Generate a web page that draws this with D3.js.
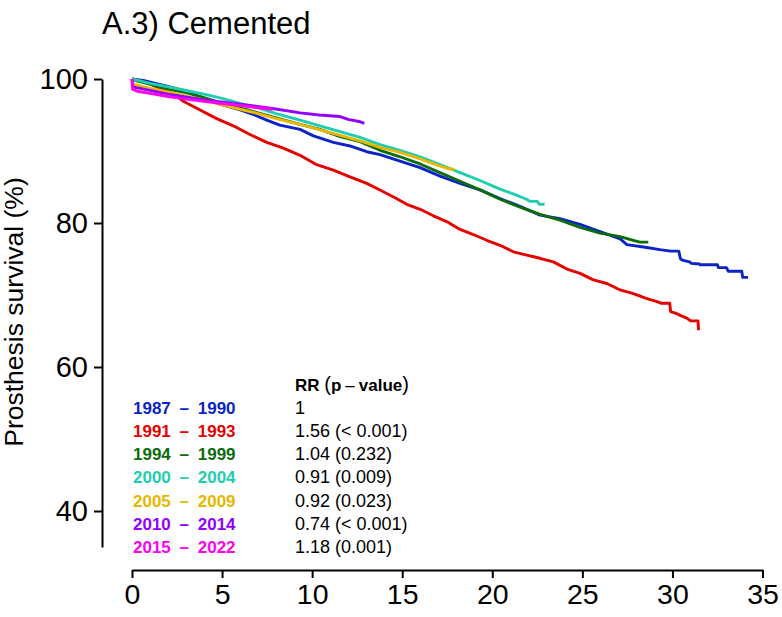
<!DOCTYPE html>
<html>
<head>
<meta charset="utf-8">
<script src="https://cdn.jsdelivr.net/npm/d3@7"></script>
<style>
  html, body { margin: 0; padding: 0; background: #fff; }
  svg { display: block; font-family: "Liberation Sans", Arial, Helvetica, sans-serif; }
</style>
</head>
<body>
<svg id="chart" width="782" height="617"></svg>
<script>
// ---- data (years since surgery, survival %) ----
const periods = ["1987 \u2013 1990", "1991 \u2013 1993", "1994 \u2013 1999", "2000 \u2013 2004", "2005 \u2013 2009", "2010 \u2013 2014", "2015 \u2013 2022"];
const rrLabels = ["1", "1.56 (< 0.001)", "1.04 (0.232)", "0.91 (0.009)", "0.92 (0.023)", "0.74 (< 0.001)", "1.18 (0.001)"];
const colors = ["#0B24C8", "#E60000", "#0C6B0C", "#1FCDB0", "#E8B800", "#9400FF", "#FF00F0"];
const xTicks = [0, 5, 10, 15, 20, 25, 30, 35];
const yTicks = [40, 60, 80, 100];

const s1987 = [[0,100],[0.3,99.9],[0.63,99.8],[1.3,99.4],[1.93,99.0],[2.85,98.4],[3.5,97.8],[4.3,97.0],[5.0,96.4],[6.0,95.7],[6.8,95.0],[7.48,94.3],[8.2,93.6],[9.33,93.0],[10.07,92.1],[11.18,91.2],[12.1,90.7],[13.03,89.9],[13.77,89.5],[14.88,88.6],[15.99,87.7],[17.1,86.5],[18.21,85.5],[19.32,84.6],[20.43,83.4],[21.54,82.3],[22.65,81.1],[23.76,80.6],[24.87,79.8],[25.98,78.8],[27.1,77.8],[27.47,77.0],[28.58,76.6],[29.3,76.3],[29.9,76.1],[30.35,76.1],[30.45,75.0],[30.6,74.8],[30.95,74.6],[31.05,74.4],[31.5,74.3],[31.55,74.2],[32.5,74.2],[32.55,73.8],[33.0,73.8],[33.1,73.3],[33.85,73.3],[33.9,72.45],[34.2,72.45]];
const s1991 = [[0,100],[0.5,99.7],[1,99.3],[1.5,98.8],[2,98.3],[2.5,97.6],[2.85,96.9],[3.78,95.7],[4.7,94.5],[5.62,93.5],[6.55,92.3],[7.48,91.2],[8.4,90.4],[9.33,89.4],[10.25,88.1],[11.18,87.35],[12.1,86.4],[13.03,85.5],[13.9,84.4],[14.6,83.5],[15.25,82.6],[16.0,81.9],[16.73,81.0],[17.47,80.2],[18.21,79.1],[18.95,78.4],[19.69,77.6],[20.43,76.9],[21.17,76.0],[21.91,75.55],[22.65,75.1],[23.39,74.6],[24.14,73.6],[24.87,73.0],[25.61,72.1],[26.36,71.6],[27.1,70.7],[27.83,70.2],[28.58,69.5],[29.1,69.1],[29.4,68.85],[29.85,68.85],[29.9,67.7],[30.2,67.45],[30.5,67.1],[30.8,66.8],[31.0,66.4],[31.42,66.4],[31.45,65.1]];
const s1994 = [[0,100],[0.3,99.7],[1,99.3],[2,98.6],[3,98.1],[4,97.4],[5,96.6],[6,96.0],[7,95.3],[8,94.6],[9.33,93.7],[10.44,93.0],[11.55,92.0],[12.66,91.3],[13.77,90.1],[14.88,89.2],[15.99,88.2],[17.1,87.0],[18.21,85.8],[19.32,84.6],[20.43,83.3],[21.54,82.2],[22.65,81.2],[23.76,80.4],[24.87,79.4],[25.98,78.6],[27.1,78.1],[27.83,77.6],[28.2,77.35],[28.66,77.35]];
const s2000 = [[0,100],[0.5,99.7],[1,99.4],[2,98.9],[3,98.4],[4,97.9],[5,97.3],[6,96.6],[7,96.0],[8,95.2],[9.33,94.3],[10.44,93.5],[11.55,92.7],[12.66,91.9],[13.77,90.9],[14.88,90.1],[15.99,89.2],[17.1,88.1],[18.21,87.0],[19.32,85.9],[20.43,84.7],[21.2,84.0],[21.9,83.3],[22.1,83.0],[22.5,83.0],[22.6,82.6],[22.9,82.6]];
const s2005 = [[0,100],[0.05,99.3],[1,98.7],[2,98.2],[3,97.6],[4,97.1],[5,96.4],[6,95.8],[7,95.2],[8,94.5],[9.33,93.7],[10.5,92.9],[11.5,92.2],[12.66,91.4],[13.77,90.5],[14.88,89.8],[16,88.9],[17,88.0],[17.5,87.6],[17.9,87.4]];
const s2010 = [[0,100],[0.05,98.9],[2,97.9],[4,97.1],[6,96.5],[7.8,95.9],[9.33,95.3],[10.4,95.0],[11.5,94.8],[12.0,94.4],[12.6,94.1],[12.9,93.85]];
const s2015 = [[0,100],[0.03,98.6],[0.3,98.3],[1,98.0],[1.93,97.6],[3,97.2],[4,96.9],[5,96.6],[6,96.3],[7,96.0],[7.8,95.8]];
const seriesList = [s1987, s1991, s1994, s2000, s2005, s2010, s2015];

// ---- drawing ----
const svg = d3.select("#chart");
const x = d3.scaleLinear().domain([0, 35]).range([132, 762.5]);
const y = d3.scaleLinear().domain([35, 100]).range([547, 79]);

// title
svg.append("text").attr("x", 102).attr("y", 34)
  .attr("font-size", 31).attr("fill", "#000").text("A.3) Cemented");

// y axis
const yAxis = svg.append("g").attr("transform", "translate(102,0)")
  .call(d3.axisLeft(y).tickValues(yTicks).tickSizeInner(8).tickSizeOuter(0).tickPadding(6));
yAxis.selectAll("path, line").attr("stroke", "#000").attr("stroke-width", 2);
yAxis.selectAll("text").attr("font-size", 29).attr("font-family", "Liberation Sans, Arial, sans-serif").attr("fill", "#000");

// x axis
const xAxis = svg.append("g").attr("transform", "translate(0,570)")
  .call(d3.axisBottom(x).tickValues(xTicks).tickSizeInner(8).tickSizeOuter(0).tickPadding(6));
xAxis.selectAll("path, line").attr("stroke", "#000").attr("stroke-width", 2);
xAxis.selectAll("text").attr("font-size", 28.5).attr("font-family", "Liberation Sans, Arial, sans-serif").attr("fill", "#000");

// y label
svg.append("text").attr("transform", "translate(23,312) rotate(-90)")
  .attr("text-anchor", "middle").attr("font-size", 26.5).attr("fill", "#000")
  .text("Prosthesis survival (%)");

// curves
const line = d3.line().x(d => x(d[0])).y(d => y(d[1]));
svg.append("g").selectAll("path").data(seriesList).join("path")
  .attr("d", line).attr("fill", "none")
  .attr("stroke", (d, i) => colors[i]).attr("stroke-width", 2.9)
  .attr("stroke-linejoin", "round").attr("stroke-linecap", "butt");

// legend
const leg = svg.append("g");
const hdr = leg.append("text").attr("x", 295).attr("y", 391).attr("font-size", 17).attr("fill", "#000");
hdr.append("tspan").attr("font-weight", "bold").text("RR ");
hdr.append("tspan").attr("font-size", 20).text("(");
hdr.append("tspan").attr("font-weight", "bold").text("p");
hdr.append("tspan").attr("dx", 4).text("\u2013");
hdr.append("tspan").attr("dx", 4).attr("font-weight", "bold").text("value");
hdr.append("tspan").attr("font-size", 20).text(")");

leg.selectAll("text.per").data(periods).join("text").attr("class", "per")
  .attr("x", 133).attr("y", (d, i) => 414 + i * 23.15)
  .attr("font-size", 17).attr("font-weight", "bold")
  .attr("word-spacing", 4)
  .attr("fill", (d, i) => colors[i]).text(d => d);

leg.selectAll("text.rr").data(rrLabels).join("text").attr("class", "rr")
  .attr("x", 295).attr("y", (d, i) => 414 + i * 23.15)
  .attr("font-size", 18).attr("fill", "#000").text(d => d);
</script>
</body>
</html>
